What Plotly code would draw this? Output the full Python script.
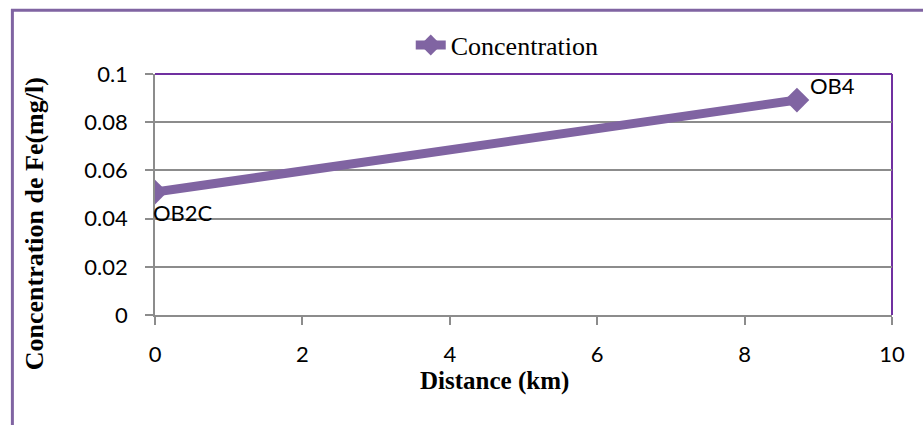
import plotly.graph_objects as go

# Data
distance_km = [0, 8.71]
concentration = [0.051, 0.0892]
station_labels = ["OB2C", "OB4"]
series_name = "Concentration"
x_ticks = [0, 2, 4, 6, 8, 10]
y_ticks = [0, 0.02, 0.04, 0.06, 0.08, 0.1]
y_tick_text = ["0", "0.02", "0.04", "0.06", "0.08", "0.1"]

PURPLE = "#8064A2"
DARK_PURPLE = "#7030A0"
GRID = "#8c8c8c"
TICK_FONT = dict(family="Lato, Liberation Sans, sans-serif", size=22, color="#000000")
SERIF = "Liberation Serif, Times New Roman, serif"

fig = go.Figure()
fig.add_trace(go.Scatter(
    x=distance_km, y=concentration, name=series_name,
    mode="lines+markers",
    line=dict(color=PURPLE, width=9),
    marker=dict(symbol="diamond", size=19, color=PURPLE),
    hoverinfo="x+y",
))

# Data labels
label_offsets = [(-4, -20), (11, 15)]
for xv, yv, lab, (dx, dy) in zip(distance_km, concentration, station_labels, label_offsets):
    fig.add_annotation(x=xv, y=yv, xref="x", yref="y", text=lab, showarrow=False,
                       xanchor="left", yanchor="middle", xshift=dx, yshift=dy,
                       font=TICK_FONT)

# Axis titles
fig.add_annotation(x=-0.163, y=0.38, xref="paper", yref="paper",
                   text="<b>Concentration de Fe(mg/l)</b>", textangle=-90, showarrow=False,
                   xanchor="center", yanchor="middle",
                   font=dict(family=SERIF, size=26, color="#000000"))
fig.add_annotation(x=0.46, y=-0.275, xref="paper", yref="paper",
                   text="<b>Distance (km)</b>", showarrow=False,
                   xanchor="center", yanchor="middle",
                   font=dict(family=SERIF, size=25, color="#000000"))

# Plot-area top/right borders and outer frame
fig.add_shape(type="line", xref="paper", yref="paper", x0=0, x1=1, y0=1, y1=1,
              line=dict(color=DARK_PURPLE, width=2), layer="between")
fig.add_shape(type="line", xref="paper", yref="paper", x0=1, x1=1, y0=0, y1=1,
              line=dict(color=DARK_PURPLE, width=2), layer="between")
fig.add_shape(type="rect", xref="paper", yref="paper", x0=-0.1935, x1=1.3, y0=1.265, y1=-0.6,
              line=dict(color=PURPLE, width=3), layer="below")

fig.update_layout(
    width=923, height=425,
    margin=dict(l=155, r=31, t=74, b=110),
    paper_bgcolor="white", plot_bgcolor="white",
    showlegend=True,
    legend=dict(orientation="h", x=0.347, y=1.12, xanchor="left", yanchor="middle",
                font=dict(family=SERIF, size=26, color="#000000"),
                bgcolor="rgba(0,0,0,0)"),
    xaxis=dict(range=[0, 10], tickvals=x_ticks, ticks="outside", ticklen=8,
               tickcolor=GRID, tickwidth=1.5, showgrid=False, zeroline=False,
               showline=True, linecolor=GRID, linewidth=1.5,
               tickfont=TICK_FONT, ticklabelstandoff=11),
    yaxis=dict(range=[0, 0.1], tickvals=y_ticks, ticktext=y_tick_text, ticks="outside", ticklen=8,
               tickcolor=GRID, tickwidth=1.5, showgrid=True, gridcolor=GRID, gridwidth=1.5,
               zeroline=False, showline=True, linecolor=GRID, linewidth=1.5,
               tickfont=TICK_FONT, ticklabelstandoff=13),
)

fig.write_html("out.html")
